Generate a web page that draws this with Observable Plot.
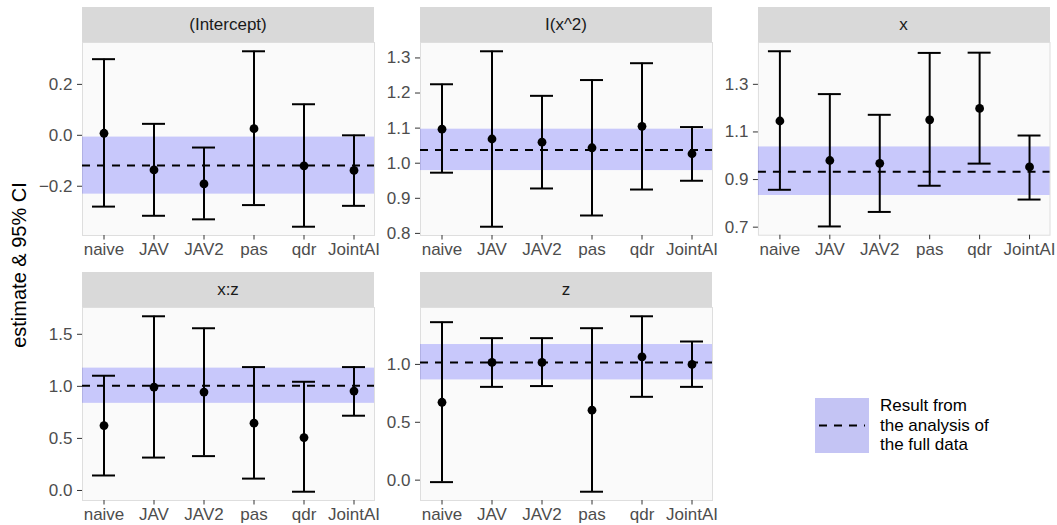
<!DOCTYPE html>
<html><head><meta charset="utf-8">
<script src="https://cdn.jsdelivr.net/npm/d3@7"></script>
<script src="https://cdn.jsdelivr.net/npm/@observablehq/plot@0.6"></script>
<style>
body{margin:0;background:#fff;font-family:"Liberation Sans",Arial,sans-serif;}
#chart{position:relative;width:1057px;height:525px;overflow:hidden;background:#fff;}
.strip{position:absolute;background:#d9d9d9;color:#1a1a1a;font-size:17px;display:flex;align-items:center;justify-content:center;}
.panel{position:absolute;}
.panel svg{overflow:visible;}
.ytitle{position:absolute;left:19px;top:265px;transform:translate(-50%,-50%) rotate(-90deg);font-size:20px;color:#000;white-space:nowrap;}
.legend{position:absolute;left:815px;top:396px;display:flex;align-items:center;}
.legend .key{width:54px;height:55px;background:#c4c4f4;}
.legend .txt{margin-left:11px;font-size:17px;line-height:19.5px;color:#000;}
</style></head><body><div id="chart"></div>
<script>
// categories
const methods = ["naive", "JAV", "JAV2", "pas", "qdr", "JointAI"];
const terms = ["(Intercept)", "I(x^2)", "x", "x:z", "z"];

// estimates and 95% CI per term (in the order of methods)
const estIntercept   = [0.008, -0.136, -0.191, 0.026, -0.120, -0.138];
const lowerIntercept = [-0.280, -0.316, -0.330, -0.274, -0.359, -0.277];
const upperIntercept = [0.299, 0.045, -0.048, 0.330, 0.122, 0.000];

const estIx2   = [1.097, 1.069, 1.060, 1.044, 1.105, 1.027];
const lowerIx2 = [0.973, 0.819, 0.928, 0.851, 0.925, 0.950];
const upperIx2 = [1.225, 1.319, 1.192, 1.237, 1.285, 1.103];

const estX   = [1.146, 0.980, 0.968, 1.151, 1.199, 0.953];
const lowerX = [0.857, 0.703, 0.764, 0.874, 0.967, 0.816];
const upperX = [1.439, 1.259, 1.172, 1.432, 1.433, 1.085];

const estXZ   = [0.623, 0.993, 0.945, 0.646, 0.508, 0.955];
const lowerXZ = [0.144, 0.316, 0.330, 0.114, -0.012, 0.718];
const upperXZ = [1.102, 1.673, 1.558, 1.185, 1.044, 1.185];

const estZ   = [0.673, 1.017, 1.017, 0.605, 1.066, 1.000];
const lowerZ = [-0.017, 0.806, 0.813, -0.100, 0.720, 0.806];
const upperZ = [1.365, 1.227, 1.227, 1.313, 1.416, 1.198];

// result from the analysis of the full data (per term)
const fullEst   = [-0.119, 1.038, 0.933, 1.006, 1.017];
const fullLower = [-0.231, 0.979, 0.833, 0.837, 0.866];
const fullUpper = [-0.007, 1.097, 1.037, 1.175, 1.172];

// y tick values per term
const ticksIntercept = [-0.2, 0.0, 0.2];
const ticksIx2 = [0.8, 0.9, 1.0, 1.1, 1.2, 1.3];
const ticksX = [0.7, 0.9, 1.1, 1.3];
const ticksXZ = [0.0, 0.5, 1.0, 1.5];
const ticksZ = [0.0, 0.5, 1.0];

const legendLines = ["Result from", "the analysis of", "the full data"];
const yTitle = "estimate & 95% CI";

const series = [
  [estIntercept, lowerIntercept, upperIntercept, ticksIntercept],
  [estIx2, lowerIx2, upperIx2, ticksIx2],
  [estX, lowerX, upperX, ticksX],
  [estXZ, lowerXZ, upperXZ, ticksXZ],
  [estZ, lowerZ, upperZ, ticksZ]
];

// layout (panel frames in page pixels)
const PW = 292, PH = 193, STRIP = 35;
const frames = [[82, 42], [420, 42], [757.5, 42], [82, 307], [420, 307]];
const ML = 50, MR = 8, MT = 6, MB = 30;
const font = '"Liberation Sans", Arial, sans-serif';

const chart = document.getElementById("chart");

series.forEach(([est, lo, hi, ticks], i) => {
  const data = methods.map((m, j) => ({method: m, est: est[j], lower: lo[j], upper: hi[j]}));
  const full = {est: fullEst[i], lower: fullLower[i], upper: fullUpper[i]};
  const all = [...lo, ...hi, full.lower, full.upper];
  const [mn, mx] = d3.extent(all);
  const pad = (mx - mn) * 0.05;
  const [fx, fy] = frames[i];

  const plot = Plot.plot({
    width: ML + PW + MR,
    height: MT + PH + MB,
    marginLeft: ML, marginRight: MR, marginTop: MT, marginBottom: MB,
    style: {fontFamily: font, fontSize: "17px", color: "#4d4d4d", background: "transparent"},
    x: {type: "band", domain: methods, paddingInner: 0.549, paddingOuter: 0.1745, align: 0.5},
    y: {domain: [mn - pad, mx + pad]},
    marks: [
      Plot.frame({fill: "#fafafa", stroke: "#dedede", strokeWidth: 1}),
      Plot.rect([full], {y1: "lower", y2: "upper", fill: "blue", fillOpacity: 0.2}),
      Plot.ruleY([full], {y: "est", stroke: "black", strokeWidth: 2, strokeDasharray: "8,7"}),
      Plot.ruleX(data, {x: "method", y1: "lower", y2: "upper", stroke: "black", strokeWidth: 2}),
      Plot.tickY(data, {x: "method", y: "lower", stroke: "black", strokeWidth: 2}),
      Plot.tickY(data, {x: "method", y: "upper", stroke: "black", strokeWidth: 2}),
      Plot.dot(data, {x: "method", y: "est", r: 4.4, fill: "black", stroke: null}),
      Plot.axisX({label: null, tickSize: 4.5, tickPadding: 3, color: "#4d4d4d", stroke: "#333"}),
      Plot.axisY({ticks: ticks, tickFormat: d3.format(".1f"), label: null, tickSize: 5, tickPadding: 5, color: "#4d4d4d", stroke: "#333"})
    ]
  });
  const wrap = document.createElement("div");
  wrap.className = "panel";
  wrap.style.left = (fx - ML) + "px";
  wrap.style.top = (fy - MT) + "px";
  wrap.appendChild(plot);
  chart.appendChild(wrap);

  const strip = document.createElement("div");
  strip.className = "strip";
  strip.style.left = fx + "px";
  strip.style.top = (fy - STRIP) + "px";
  strip.style.width = PW + "px";
  strip.style.height = STRIP + "px";
  strip.textContent = terms[i];
  chart.appendChild(strip);
});

// y-axis title
const yt = document.createElement("div");
yt.className = "ytitle";
yt.textContent = yTitle;
chart.appendChild(yt);

// legend
const lg = document.createElement("div");
lg.className = "legend";
const key = document.createElement("div");
key.className = "key";
key.innerHTML = '<svg width="54" height="55"><line x1="4" x2="50" y1="27.5" y2="27.5" stroke="black" stroke-width="2" stroke-dasharray="8,7"/></svg>';
const txt = document.createElement("div");
txt.className = "txt";
txt.innerHTML = legendLines.map(s => `<div>${s}</div>`).join("");
lg.appendChild(key);
lg.appendChild(txt);
chart.appendChild(lg);
</script>
</body></html>
